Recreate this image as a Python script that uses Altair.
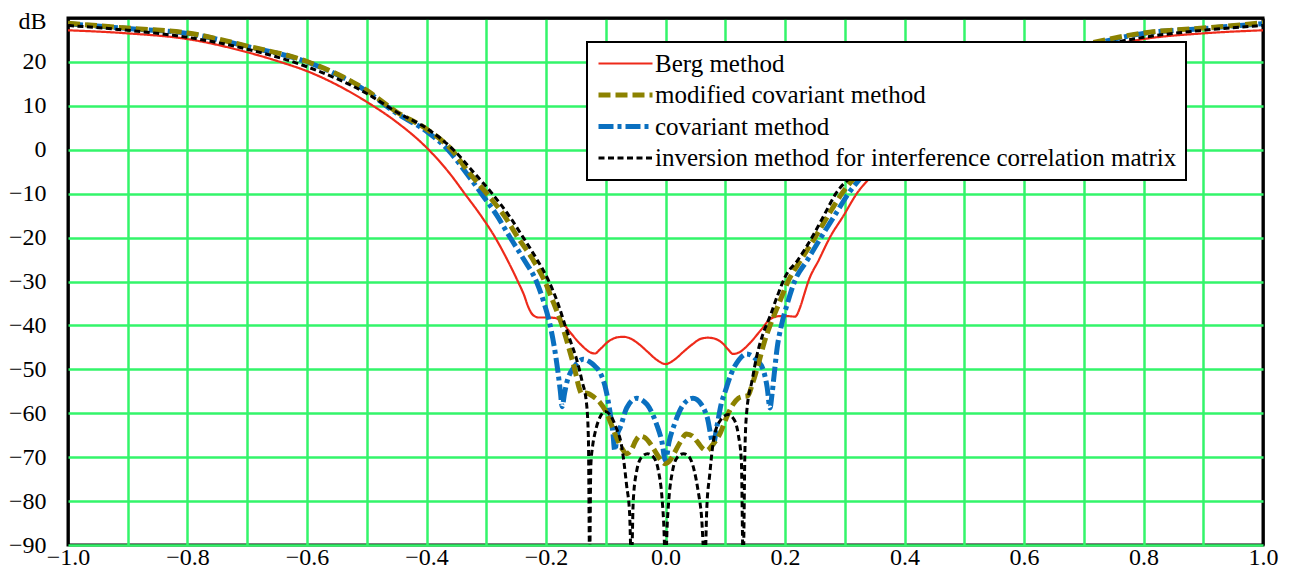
import altair as alt
import pandas as pd

# ---------------- data ----------------
series_names = [
    "Berg method",
    "modified covariant method",
    "covariant method",
    "inversion method for interference correlation matrix",
]

berg_x = [-1.0, -0.9, -0.8, -0.7, -0.645, -0.6, -0.5, -0.45, -0.4, -0.36, -0.336, -0.31, -0.285,
          -0.265, -0.247, -0.237, -0.229, -0.222, -0.212, -0.2, -0.185, -0.175, -0.16, -0.14,
          -0.125, -0.118, -0.11, -0.095, -0.08, -0.07, -0.06, -0.045, -0.03, -0.015, 0.0,
          0.015, 0.03, 0.045, 0.06, 0.071, 0.082, 0.095, 0.105, 0.113, 0.125, 0.14, 0.16, 0.175,
          0.19, 0.205, 0.217, 0.225, 0.232, 0.239, 0.257, 0.275, 0.298, 0.32, 0.345, 0.4, 0.45,
          0.5, 0.6, 0.645, 0.7, 0.8, 0.9, 1.0]
berg_y = [27.2, 26.5, 25.2, 22.2, 20.0, 17.9, 10.9, 6.3, 0.5, -5.6, -10, -14.8, -20,
          -25, -30, -33, -36.0, -37.6, -38.2, -38.2, -38.3, -39.0, -41.5, -44.6,
          -46.2, -46.4, -45.5, -43.6, -42.7, -42.6, -42.9, -44.2, -46.0, -47.8, -48.8,
          -47.8, -46.0, -44.3, -43.0, -42.8, -43.0, -44.0, -45.5, -46.5, -46.0, -44.2, -41.0, -38.6,
          -37.9, -37.9, -38.0, -36.0, -33.0, -30, -25, -20, -15, -10, -6, 0.5, 6.3,
          10.9, 17.9, 20.0, 22.2, 25.2, 26.5, 27.2]

mod_x = [-1.0, -0.9, -0.8, -0.7, -0.6, -0.5, -0.45, -0.4, -0.358, -0.33, -0.299, -0.27, -0.247,
         -0.222, -0.202, -0.187, -0.173, -0.162, -0.151, -0.145, -0.14, -0.135, -0.128, -0.12,
         -0.11, -0.1, -0.09, -0.082, -0.073, -0.065, -0.057, -0.05, -0.043, -0.035, -0.025,
         -0.015, -0.006, 0.0,
         0.006, 0.015, 0.025, 0.035, 0.045, 0.055, 0.062, 0.069, 0.078, 0.091, 0.102, 0.113,
         0.122, 0.13, 0.138, 0.145, 0.155, 0.165, 0.175, 0.19, 0.205, 0.227, 0.25, 0.272, 0.295,
         0.325, 0.358, 0.4, 0.45, 0.5, 0.6, 0.7, 0.8, 0.9, 1.0]
mod_y = [28.8, 27.7, 26.6, 23.6, 20.1, 13.5, 8.6, 4.7, 0, -5, -10, -15, -20,
         -25, -30, -35, -40, -45, -50.5, -54, -55.6, -55.4, -55.6, -56.3,
         -57.5, -59.5, -62.8, -65.5, -68, -69.2, -68.3, -66.3, -65.2, -65.5, -67.0,
         -69.2, -71, -71.5,
         -71, -69, -66.5, -64.7, -65.2, -66.8, -68, -68.5, -67.3, -64.7, -61, -58,
         -56.6, -56.2, -56.0, -53.5, -49, -44, -40, -35, -30, -25, -20, -15, -10,
         -5, 0, 4.7, 8.6, 13.5, 20.1, 23.9, 26.6, 27.7, 28.9]

cov_x = [-1.0, -0.9, -0.8, -0.7, -0.6, -0.5, -0.45, -0.4, -0.364, -0.335, -0.308, -0.282, -0.26,
         -0.237, -0.216, -0.203, -0.193, -0.186, -0.18, -0.176, -0.173, -0.169, -0.165, -0.16,
         -0.155, -0.146, -0.138, -0.128, -0.118, -0.11, -0.1, -0.093, -0.088, -0.085, -0.08,
         -0.076, -0.065, -0.048, -0.031, -0.015, -0.006, 0.0,
         0.006, 0.015, 0.03, 0.046, 0.06, 0.07, 0.08, 0.086, 0.093, 0.1, 0.11, 0.123, 0.136,
         0.15, 0.163, 0.17, 0.175, 0.178, 0.182, 0.187, 0.194, 0.204, 0.216, 0.238, 0.26, 0.283,
         0.306, 0.335, 0.364, 0.4, 0.45, 0.5, 0.6, 0.7, 0.8, 0.9, 1.0]
cov_y = [28.7, 27.6, 26.5, 23.5, 20.0, 13.3, 8.3, 4.2, 0, -5, -10, -15, -20,
         -25, -30, -35, -40, -45, -50.6, -55, -58.5, -55.5, -52.9, -51,
         -49.9, -48.3, -47.7, -48.2, -49.3, -50.6, -54.5, -59.6, -64.5, -68.5, -64.5,
         -63.3, -58.8, -56.6, -58, -62.5, -66.5, -70.8,
         -66.5, -62.5, -58, -56.6, -58, -61, -67, -63, -58, -55, -51, -47.8, -46.5,
         -47.5, -49.9, -54, -58.8, -56, -51, -45, -40, -35, -30, -25, -20, -15,
         -10, -5, 0, 4.2, 8.3, 13.3, 20.0, 23.5, 26.5, 27.6, 28.7]

inv_x = [-1.0, -0.9, -0.8, -0.7, -0.6, -0.5, -0.45, -0.4, -0.355, -0.322, -0.29, -0.262, -0.238,
         -0.215, -0.195, -0.18, -0.168, -0.158, -0.149, -0.14, -0.132, -0.129, -0.127, -0.125,
         -0.122, -0.118, -0.11, -0.101, -0.092, -0.082, -0.074, -0.065, -0.06, -0.057, -0.054,
         -0.048, -0.04, -0.03, -0.02, -0.012, -0.006, -0.003, 0.0,
         0.003, 0.006, 0.012, 0.02, 0.03, 0.04, 0.048, 0.055, 0.06, 0.066, 0.069, 0.074, 0.08,
         0.09, 0.105, 0.115, 0.122, 0.127, 0.13, 0.133, 0.136, 0.145, 0.153, 0.163, 0.175,
         0.188, 0.2, 0.222, 0.245, 0.265, 0.285, 0.32, 0.355, 0.4, 0.45, 0.5, 0.6, 0.7, 0.8,
         0.9, 1.0]
inv_y = [28.3, 27.2, 25.6, 22.9, 18.9, 12.8, 8.6, 4.9, 0, -5, -10, -15, -20,
         -25, -30, -35, -40, -44, -47.6, -52.5, -58, -66, -95, -72,
         -67.5, -64.5, -61, -59.6, -60.5, -63.5, -67, -76.5, -83, -95, -80,
         -73, -70, -69.2, -70, -73, -79, -85, -95,
         -85, -79, -73, -70, -69.2, -70, -73, -78, -83, -95, -82, -74, -66.5,
         -62, -60.3, -61.5, -65, -71, -95, -68, -59.6, -52.5, -46.8, -42, -37.9,
         -33, -29, -25, -20, -15, -10, -5, 0, 4.9, 8.6, 12.8, 18.9, 22.9, 25.6,
         27.2, 28.3]

x_tick_values = [-1.0, -0.9, -0.8, -0.7, -0.6, -0.5, -0.4, -0.3, -0.2, -0.1, 0.0,
                 0.1, 0.2, 0.3, 0.4, 0.5, 0.6, 0.7, 0.8, 0.9, 1.0]
y_tick_values = [-90, -80, -70, -60, -50, -40, -30, -20, -10, 0, 10, 20, 30]

# ---------------- styles ----------------
series_colors = ["#ee2a1a", "#8c8200", "#0a70c0", "#000000"]
series_dashes = [[1, 0], [12, 5], [15, 4, 4, 4], [6, 3.5]]
series_widths = [2.2, 5, 5, 3]
draw_order = [0, 2, 1, 3]  # red, blue, olive, black
GRID = "#33f56a"
FONT = "Liberation Serif"

rows = []
for name, xs, ys in zip(series_names,
                        [berg_x, mod_x, cov_x, inv_x],
                        [berg_y, mod_y, cov_y, inv_y]):
    for xv, yv in zip(xs, ys):
        rows.append({"series": name, "x": xv, "y": yv})
df = pd.DataFrame(rows)

x_axis = alt.Axis(
    values=x_tick_values, format=".1f",
    labelExpr="abs(round(datum.value*10)) % 2 == 1 ? '' : datum.label",
    grid=True,
    gridColor=alt.condition("abs(datum.value) > 0.99", alt.value("black"), alt.value(GRID)),
    gridWidth=2.5, ticks=False, domain=False,
    labelFont=FONT, labelFontSize=24, labelColor="black", labelPadding=0,
    labelFlush=False, labelOverlap=False, title=None,
)
y_axis = alt.Axis(
    values=y_tick_values,
    labelExpr="datum.value == 30 ? 'dB' : datum.label",
    labelOffset=alt.condition("datum.value >= 29", alt.value(3), alt.value(0)),
    grid=True,
    gridColor=alt.condition("datum.value >= 29", alt.value("black"), alt.value(GRID)),
    gridWidth=2.5, ticks=False, domain=False,
    labelFont=FONT, labelFontSize=24, labelColor="black", labelPadding=22,
    labelFlush=False, labelOverlap=False, title=None,
)

width_expr = ("datum.value === '" + series_names[0] + "' ? 2.2 : (datum.value === '"
              + series_names[3] + "' ? 3 : 5)")
legend = alt.Legend(
    title=None, orient="none", legendX=519, legendY=24,
    symbolType="M-1,0H4.4", symbolSize=400,
    symbolStrokeWidth=alt.ExprRef(expr=width_expr),
    labelFont=FONT, labelFontSize=25, labelColor="black", labelOffset=34,
    labelLimit=800, padding=9, rowPadding=5.5,
    fillColor="white", strokeColor="black",
)

color_scale = alt.Scale(domain=series_names, range=series_colors)
dash_scale = alt.Scale(domain=series_names, range=series_dashes)

layers = []
for i in draw_order:
    layers.append(
        alt.Chart(df)
        .transform_filter(alt.datum.series == series_names[i])
        .mark_line(clip=True, interpolate="monotone")
        .encode(
            x=alt.X("x:Q", scale=alt.Scale(domain=[-1, 1], nice=False, zero=False), axis=x_axis),
            y=alt.Y("y:Q", scale=alt.Scale(domain=[-90, 30], nice=False, zero=False), axis=y_axis),
            color=alt.Color("series:N", scale=color_scale, legend=legend),
            strokeDash=alt.StrokeDash("series:N", scale=dash_scale, legend=legend),
            strokeWidth=alt.value(series_widths[i]),
        )
    )

chart = (
    alt.layer(*layers)
    .properties(
        width=1195, height=527,
        autosize=alt.AutoSizeParams(type="none"),
        padding={"left": 60, "top": 10, "right": 22, "bottom": 25},
        background="white",
    )
    .configure_view(stroke="black", strokeWidth=3)
    .configure_legend(strokeWidth=2)
)

chart.save("out.html", embed_options={"renderer": "svg", "actions": False})
